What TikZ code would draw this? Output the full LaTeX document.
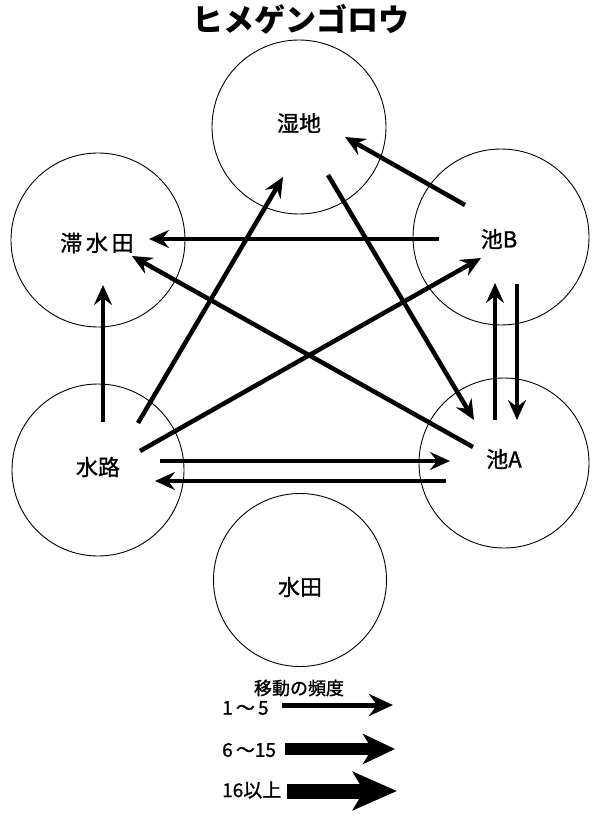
\documentclass[tikz,border=0pt]{standalone}
\usepackage{fontspec}
\setmainfont{Noto Sans CJK JP}
\newfontfamily\jpmid[FakeBold=1.2]{Noto Sans CJK JP}
\usetikzlibrary{arrows.meta}
\tikzset{
  place/.style={circle, draw, line width=0.9pt, inner sep=0pt, minimum size=#1},
  lbl/.style={inner sep=0pt, font=\jpmid\fontsize{22}{22}\selectfont},
  mv/.style={line width=4.5pt, -{Stealth[length=20pt,width=18pt,inset=7pt]}},
  legtxt/.style={inner sep=0pt, anchor=west, font=\jpmid\fontsize{19}{19}\selectfont},
}
\begin{document}
\begin{tikzpicture}[x=1pt,y=-1pt]
\useasboundingbox (0,0) rectangle (600,818);
% title
\node[inner sep=0pt, font=\fontsize{31}{31}\selectfont\bfseries] (title) at (301,19) {ヒメゲンゴロウ};
% places
\node[place=174pt] (swamp) at (299,127) {};
\node[place=174pt] (stag)  at (98,240) {};
\node[place=176pt] (pondB) at (501,237) {};
\node[place=172pt] (canal) at (98,470) {};
\node[place=170pt] (pondA) at (504,463) {};
\node[place=173pt] (paddy) at (300,580) {};
% labels
\node[lbl] (tswamp) at (299,123) {湿地};
\node[lbl] (tstag)  at (97,243) {滞\,水\,田};
\node[lbl] (tpondB) at (499,239) {池B};
\node[lbl] (tcanal) at (98,467) {水路};
\node[lbl] (tpondA) at (504,459) {池A};
\node[lbl] (tpaddy) at (300,587) {水田};
% arrow endpoints
\coordinate (c1s) at (138,423); \coordinate (c1e) at (283,177);
\coordinate (c2s) at (140,451); \coordinate (c2e) at (481,258);
\coordinate (c3s) at (473,447); \coordinate (c3e) at (132,256);
\coordinate (c4s) at (328,175); \coordinate (c4e) at (474,420);
\coordinate (c5s) at (465,205); \coordinate (c5e) at (345,137);
\coordinate (c6s) at (439,239); \coordinate (c6e) at (149,239);
\coordinate (c7s) at (103,422); \coordinate (c7e) at (103,285);
\coordinate (c8s) at (495,420); \coordinate (c8e) at (495,283);
\coordinate (c9s) at (517,284); \coordinate (c9e) at (517,420);
\coordinate (c10s) at (160,461); \coordinate (c10e) at (450,461);
\coordinate (c11s) at (446,481); \coordinate (c11e) at (155,481);
\draw[mv] (c1s) -- (c1e);
\draw[mv] (c2s) -- (c2e);
\draw[mv] (c3s) -- (c3e);
\draw[mv] (c4s) -- (c4e);
\draw[mv] (c5s) -- (c5e);
\draw[mv] (c6s) -- (c6e);
\draw[mv] (c7s) -- (c7e);
\draw[mv] (c8s) -- (c8e);
\draw[mv] (c9s) -- (c9e);
\draw[mv] (c10s) -- (c10e);
\draw[mv] (c11s) -- (c11e);
% legend
\node[inner sep=0pt, font=\jpmid\fontsize{18}{18}\selectfont] (legtitle) at (299,688) {移動の頻度};
\node[legtxt] (l1) at (222,708) {1\,～\,5};
\node[legtxt] (l2) at (222,750) {6\,～15};
\node[legtxt] (l3) at (222,790) {16以上};
\coordinate (a1s) at (282,705); \coordinate (a1e) at (393,705);
\coordinate (a2s) at (285,749); \coordinate (a2e) at (395,749);
\coordinate (a3s) at (287,791); \coordinate (a3e) at (397,791);
\draw[line width=5pt, -{Stealth[length=24pt,width=22pt,inset=8pt]}] (a1s) -- (a1e);
\draw[line width=12pt, -{Stealth[length=32pt,width=30pt,inset=9pt]}] (a2s) -- (a2e);
\draw[line width=15pt, -{Stealth[length=44pt,width=38pt,inset=11pt]}] (a3s) -- (a3e);
\end{tikzpicture}
\end{document}
